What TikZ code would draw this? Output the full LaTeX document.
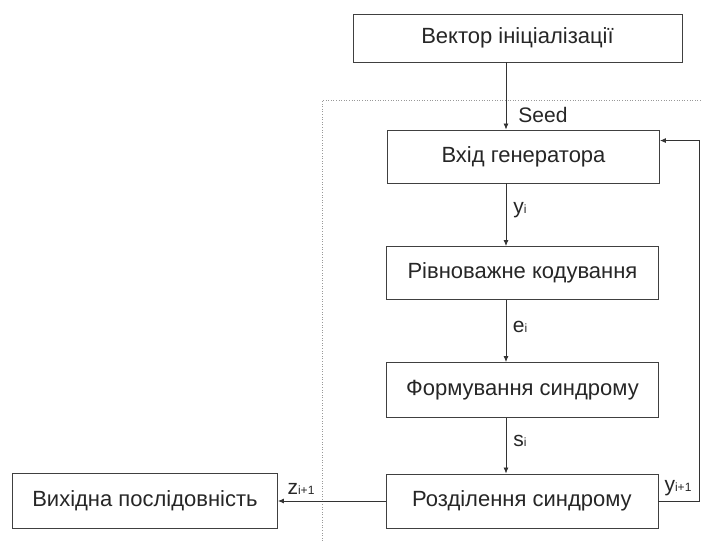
\documentclass[tikz,border=0pt]{standalone}
\usepackage{fontspec}
\setmainfont{Liberation Sans}
\usetikzlibrary{positioning, arrows.meta, calc}

\newcommand{\idx}[1]{{\fontsize{12}{12}\selectfont #1}}

\begin{document}
\begin{tikzpicture}[
    x=1pt, y=-1pt,
    block/.style={rectangle, draw=black!75, line width=0.9pt, minimum height=53pt, minimum width=272pt, align=center, font=\fontsize{22}{26}\selectfont, text=black!85, inner sep=0pt},
    arrow/.style={-{Latex[length=6pt,width=5pt]}, line width=0.8pt, draw=black!80},
    lbl/.style={font=\fontsize{21}{24}\selectfont, text=black!85, inner sep=0pt},
    frame/.style={dotted, draw=black!40, line width=0.6pt},
]
\useasboundingbox (0,0) rectangle (702,541);

% Generator frame
\draw[frame] (322,541) -- (322,100) -- (702,100);

% Blocks
\node[block, minimum width=329pt, minimum height=48pt] (init) at (517.5,38) {Вектор ініціалізації};
\node[block] (gen) at (523.5,156.5) {Вхід генератора};
\node[block] (enc) at (522.5,273) {Рівноважне кодування};
\node[block, minimum height=55pt] (synd) at (522.5,390) {Формування синдрому};
\node[block, minimum height=54pt] (split) at (522,501) {Розділення синдрому};
\node[block, minimum width=265pt, minimum height=55pt] (out) at (145,501) {Вихідна послідовність};

% Signal axis and feedback corner
\coordinate (axis) at (506,0);
\coordinate (loop) at (699,0);

%% === Arrows ===
\draw[arrow] (init.south -| axis) -- (gen.north -| axis);
\draw[arrow] (gen.south -| axis) -- (enc.north -| axis);
\draw[arrow] (enc.south -| axis) -- (synd.north -| axis);
\draw[arrow] (synd.south -| axis) -- (split.north -| axis);

% Output and feedback
\draw[arrow] (split.west) -- (out.east);
\draw[arrow] (split.east) -- (split.east -| loop) |- ($(gen.north east)+(0,11)$);

% Labels
\node[lbl] (seed) at (543,115) {Seed};
\node[lbl] (ylab) at (520,210) {y\idx{i}};
\node[lbl] (elab) at (520,327) {e\idx{i}};
\node[lbl] (slab) at (520,441) {s\idx{i}};
\node[lbl] (zlab) at (301,489) {z\idx{i+1}};
\node[lbl] (ynext) at (678,488) {y\idx{i+1}};

\end{tikzpicture}
\end{document}
